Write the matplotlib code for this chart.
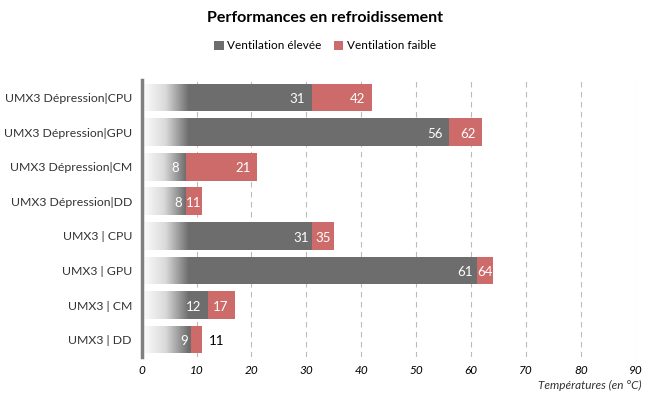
import numpy as np
import matplotlib.pyplot as plt
from matplotlib.colors import LinearSegmentedColormap

plt.rcParams['font.family'] = ['Lato', 'DejaVu Sans']

categories = ['UMX3 Dépression|CPU', 'UMX3 Dépression|GPU', 'UMX3 Dépression|CM',
              'UMX3 Dépression|DD', 'UMX3 | CPU', 'UMX3 | GPU', 'UMX3 | CM', 'UMX3 | DD']
ventil_elevee = [31, 56, 8, 8, 31, 61, 12, 9]
ventil_faible = [42, 62, 21, 11, 35, 64, 17, 11]
xticks = [0, 10, 20, 30, 40, 50, 60, 70, 80, 90]

gray = '#6d6d6d'
red = '#cd6b6b'

fig = plt.figure(figsize=(6.5, 3.97), dpi=100)
ax = fig.add_axes([0.218, 0.101, 0.76, 0.697])

y = np.arange(len(categories))
h = 0.8
ax.barh(y, ventil_faible, height=h, color=red, label='Ventilation faible', zorder=2)
ax.barh(y, ventil_elevee, height=h, color=gray, label='Ventilation élevée', zorder=3)

# dégradé blanc à gauche des barres
fade = LinearSegmentedColormap.from_list('fade', [(1, 1, 1, 1), (1, 1, 1, 0.75), (1, 1, 1, 0)])
grad = np.linspace(0, 1, 256).reshape(1, -1)
for i in range(len(categories)):
    end = min(8.5, ventil_elevee[i])
    ax.imshow(grad, cmap=fade, aspect='auto', extent=[0, end, i + h / 2, i - h / 2],
              zorder=4, interpolation='bilinear')

# étiquettes
for i in range(len(categories)):
    e, f = ventil_elevee[i], ventil_faible[i]
    gap = f - e
    off = 1.2 if gap >= 5 else 0.6
    ax.text(e - off, i + 0.05, str(e), ha='right', va='center', color='white',
            fontsize=9.5, zorder=5)
    if gap >= 5:
        ax.text(f - 1.2, i + 0.05, str(f), ha='right', va='center', color='white',
                fontsize=9.5, zorder=5)
    elif gap >= 2.5:
        ax.text((e + f) / 2, i + 0.05, str(f), ha='center', va='center', color='white',
                fontsize=9.5, zorder=5)
    else:
        ax.text(f + 1.2, i + 0.05, str(f), ha='left', va='center', color='black',
                fontsize=9.5, zorder=5)

ax.set_xlim(0, 90)
ax.set_ylim(len(categories) - 0.5, -0.5)
ax.set_yticks(y)
ax.set_yticklabels(categories, fontsize=8.8, color='#333333')
ax.set_xticks(xticks)
ax.set_xticklabels([str(t) for t in xticks], fontsize=8.5, style='italic')
ax.tick_params(axis='both', length=0)
ax.tick_params(axis='y', pad=7)
ax.tick_params(axis='x', pad=6)

for x in xticks[1:]:
    ax.axvline(x, color='#bbbbbb', linestyle=(0, (5, 4)), linewidth=0.8, zorder=1)

for s in ['top', 'right', 'bottom']:
    ax.spines[s].set_visible(False)
ax.spines['left'].set_color('#808080')
ax.spines['left'].set_linewidth(2.5)
ax.spines['left'].set_zorder(6)

fig.text(0.5, 0.955, 'Performances en refroidissement', ha='center', va='center',
         fontsize=11.5, fontweight='bold')
handles, labels = ax.get_legend_handles_labels()
fig.legend(handles[::-1], labels[::-1], loc='center', bbox_to_anchor=(0.5, 0.885), ncol=2,
           frameon=False, fontsize=8.5, handlelength=0.8, handleheight=0.8,
           handletextpad=0.3, columnspacing=1.0)
fig.text(0.987, 0.028, 'Températures (en °C)', ha='right', va='center',
         fontsize=8.5, style='italic', color='#333333')

plt.savefig('out.png', dpi=100)
